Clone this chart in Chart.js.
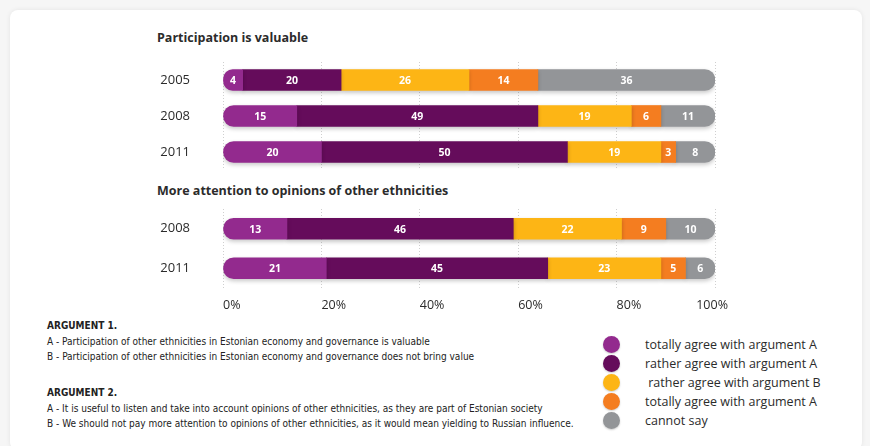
<!DOCTYPE html>
<html>
<head>
<meta charset="utf-8">
<script src="https://cdn.jsdelivr.net/npm/chart.js@4"></script>
<style>
  html, body { margin: 0; padding: 0; }
  body { width: 870px; height: 446px; background: #f6f6f6; position: relative; overflow: hidden; font-family: "Open Sans", sans-serif; color: #2b2b2b; }
  .card { position: absolute; left: 10px; top: 10px; width: 852px; height: 440px; background: #fff; border-radius: 8px; box-shadow: 0 0 5px rgba(0,0,0,0.08); }
  .title { position: absolute; left: 157px; font-weight: 700; font-size: 12.5px; line-height: 16px; }
  .cv { position: absolute; left: 140px; width: 600px; }
  .note { position: absolute; left: 47px; font-family: "Liberation Sans Narrow", "DejaVu Sans Condensed", sans-serif; font-size: 10px; line-height: 12px; white-space: nowrap; color: #222; }
  .note.b { font-weight: 700; }
  #legend { position: absolute; left: 603px; top: 335px; }
  .item { height: 19px; display: flex; align-items: center; font-size: 12.5px; white-space: pre; color: #2b2b2b; }
  .dot { width: 17px; height: 17px; border-radius: 50%; margin-right: 25px; flex: none; box-shadow: 0 1px 2px rgba(0,0,0,0.2); }
</style>
</head>
<body>
<div class="card"></div>
<div class="title" style="top:30px">Participation is valuable</div>
<div class="title" style="top:183px">More attention to opinions of other ethnicities</div>
<canvas id="chart1" class="cv" style="top:55px;height:122px" width="600" height="122"></canvas>
<canvas id="chart2" class="cv" style="top:200px;height:118px" width="600" height="118"></canvas>

<div class="note b" style="top:320px">ARGUMENT 1.</div>
<div class="note" style="top:336px">A - Participation of other ethnicities in Estonian economy and governance is valuable</div>
<div class="note" style="top:351px">B - Participation of other ethnicities in Estonian economy and governance does not  bring value</div>
<div class="note b" style="top:387px">ARGUMENT 2.</div>
<div class="note" style="top:403px">A - It is useful to listen and take into account  opinions of other ethnicities, as they are part of Estonian society</div>
<div class="note" style="top:418px">B - We should not pay more attention  to opinions of other ethnicities, as it would mean yielding to Russian influence.</div>

<div id="legend"></div>

<script>
// answer categories
var seriesLabels = ['totally agree with argument A', 'rather agree with argument A', ' rather agree with argument B', 'totally agree with argument A', 'cannot say'];
var seriesColors = ['#932a8e', '#650c5b', '#fdb515', '#f47d20', '#939598'];

// Participation is valuable
var years1 = ['2005', '2008', '2011'];
var p1TotallyA = [4, 15, 20];
var p1RatherA = [20, 49, 50];
var p1RatherB = [26, 19, 19];
var p1TotallyB = [14, 6, 3];
var p1Cannot = [36, 11, 8];

// More attention to opinions of other ethnicities
var years2 = ['2008', '2011'];
var p2TotallyA = [13, 21];
var p2RatherA = [46, 45];
var p2RatherB = [22, 23];
var p2TotallyB = [9, 5];
var p2Cannot = [10, 6];

var xTicks = [0, 20, 40, 60, 80, 100];

function makeDatasets(series) {
    return series.map(function(vals, i) {
        var r = {topLeft: 0, bottomLeft: 0, topRight: 0, bottomRight: 0};
        if (i === 0) { r.topLeft = 11; r.bottomLeft = 11; }
        if (i === series.length - 1) { r.topRight = 11; r.bottomRight = 11; }
        return {
            label: seriesLabels[i],
            data: vals,
            backgroundColor: seriesColors[i],
            borderWidth: 0,
            borderSkipped: false,
            borderRadius: r,
            barThickness: 21
        };
    });
}

var shadowPlugin = {
    id: 'shadow',
    beforeDatasetsDraw: function(chart) {
        var c = chart.ctx;
        c.save();
        c.shadowColor = 'rgba(0,0,0,0.22)';
        c.shadowBlur = 4;
        c.shadowOffsetY = 2;
    },
    afterDatasetsDraw: function(chart) {
        chart.ctx.restore();
        var c = chart.ctx;
        c.save();
        c.fillStyle = '#fff';
        c.font = 'bold 10.5px "Open Sans"';
        c.textAlign = 'center';
        c.textBaseline = 'middle';
        chart.data.datasets.forEach(function(ds, i) {
            chart.getDatasetMeta(i).data.forEach(function(bar, j) {
                var p = bar.getProps(['x', 'y', 'base'], true);
                c.fillText(ds.data[j], (p.x + p.base) / 2, p.y + 1);
            });
        });
        c.restore();
    }
};

var tickPlugin = {
    id: 'xlabels',
    afterDraw: function(chart) {
        if (!chart.options.plugins.xlabels.show) return;
        var c = chart.ctx, sx = chart.scales.x;
        c.save();
        c.fillStyle = '#2b2b2b';
        c.font = '12.5px "Open Sans"';
        c.textBaseline = 'middle';
        xTicks.forEach(function(v, i) {
            c.textAlign = i === xTicks.length - 1 ? 'right' : 'left';
            var x = sx.getPixelForValue(v);
            if (i === xTicks.length - 1) x += 13;
            c.fillText(v + '%', x, chart.chartArea.bottom + 17);
        });
        c.restore();
    }
};

function makeChart(id, years, series, pad, showTicks) {
    return new Chart(document.getElementById(id).getContext('2d'), {
        type: 'bar',
        data: { labels: years, datasets: makeDatasets(series) },
        plugins: [shadowPlugin, tickPlugin],
        options: {
            indexAxis: 'y',
            responsive: false,
            animation: false,
            layout: { padding: pad },
            plugins: {
                legend: { display: false },
                tooltip: { enabled: false },
                xlabels: { show: showTicks }
            },
            scales: {
                x: {
                    stacked: true,
                    min: 0,
                    max: 100,
                    ticks: { display: false, stepSize: 20 },
                    grid: { color: '#cfcfcf', drawTicks: false },
                    border: { display: false, dash: [1, 2] },
                    afterFit: function(s) { s.height = 0; s.paddingLeft = 0; s.paddingRight = 0; }
                },
                y: {
                    stacked: true,
                    ticks: { color: '#2b2b2b', font: { family: 'Open Sans', size: 13 }, padding: 33 },
                    grid: { display: false, drawTicks: false },
                    border: { display: false },
                    afterFit: function(s) { s.width = 83; s.paddingTop = 0; s.paddingBottom = 0; }
                }
            }
        }
    });
}

makeChart('chart1', years1, [p1TotallyA, p1RatherA, p1RatherB, p1TotallyB, p1Cannot],
    { top: 7, bottom: 7, left: 0, right: 25 }, false);
makeChart('chart2', years2, [p2TotallyA, p2RatherA, p2RatherB, p2TotallyB, p2Cannot],
    { top: 9, bottom: 30, left: 0, right: 25 }, true);

var legend = document.getElementById('legend');
seriesLabels.forEach(function(lbl, i) {
    var row = document.createElement('div');
    row.className = 'item';
    var dot = document.createElement('span');
    dot.className = 'dot';
    dot.style.background = seriesColors[i];
    row.appendChild(dot);
    row.appendChild(document.createTextNode(lbl));
    legend.appendChild(row);
});
</script>
</body>
</html>
